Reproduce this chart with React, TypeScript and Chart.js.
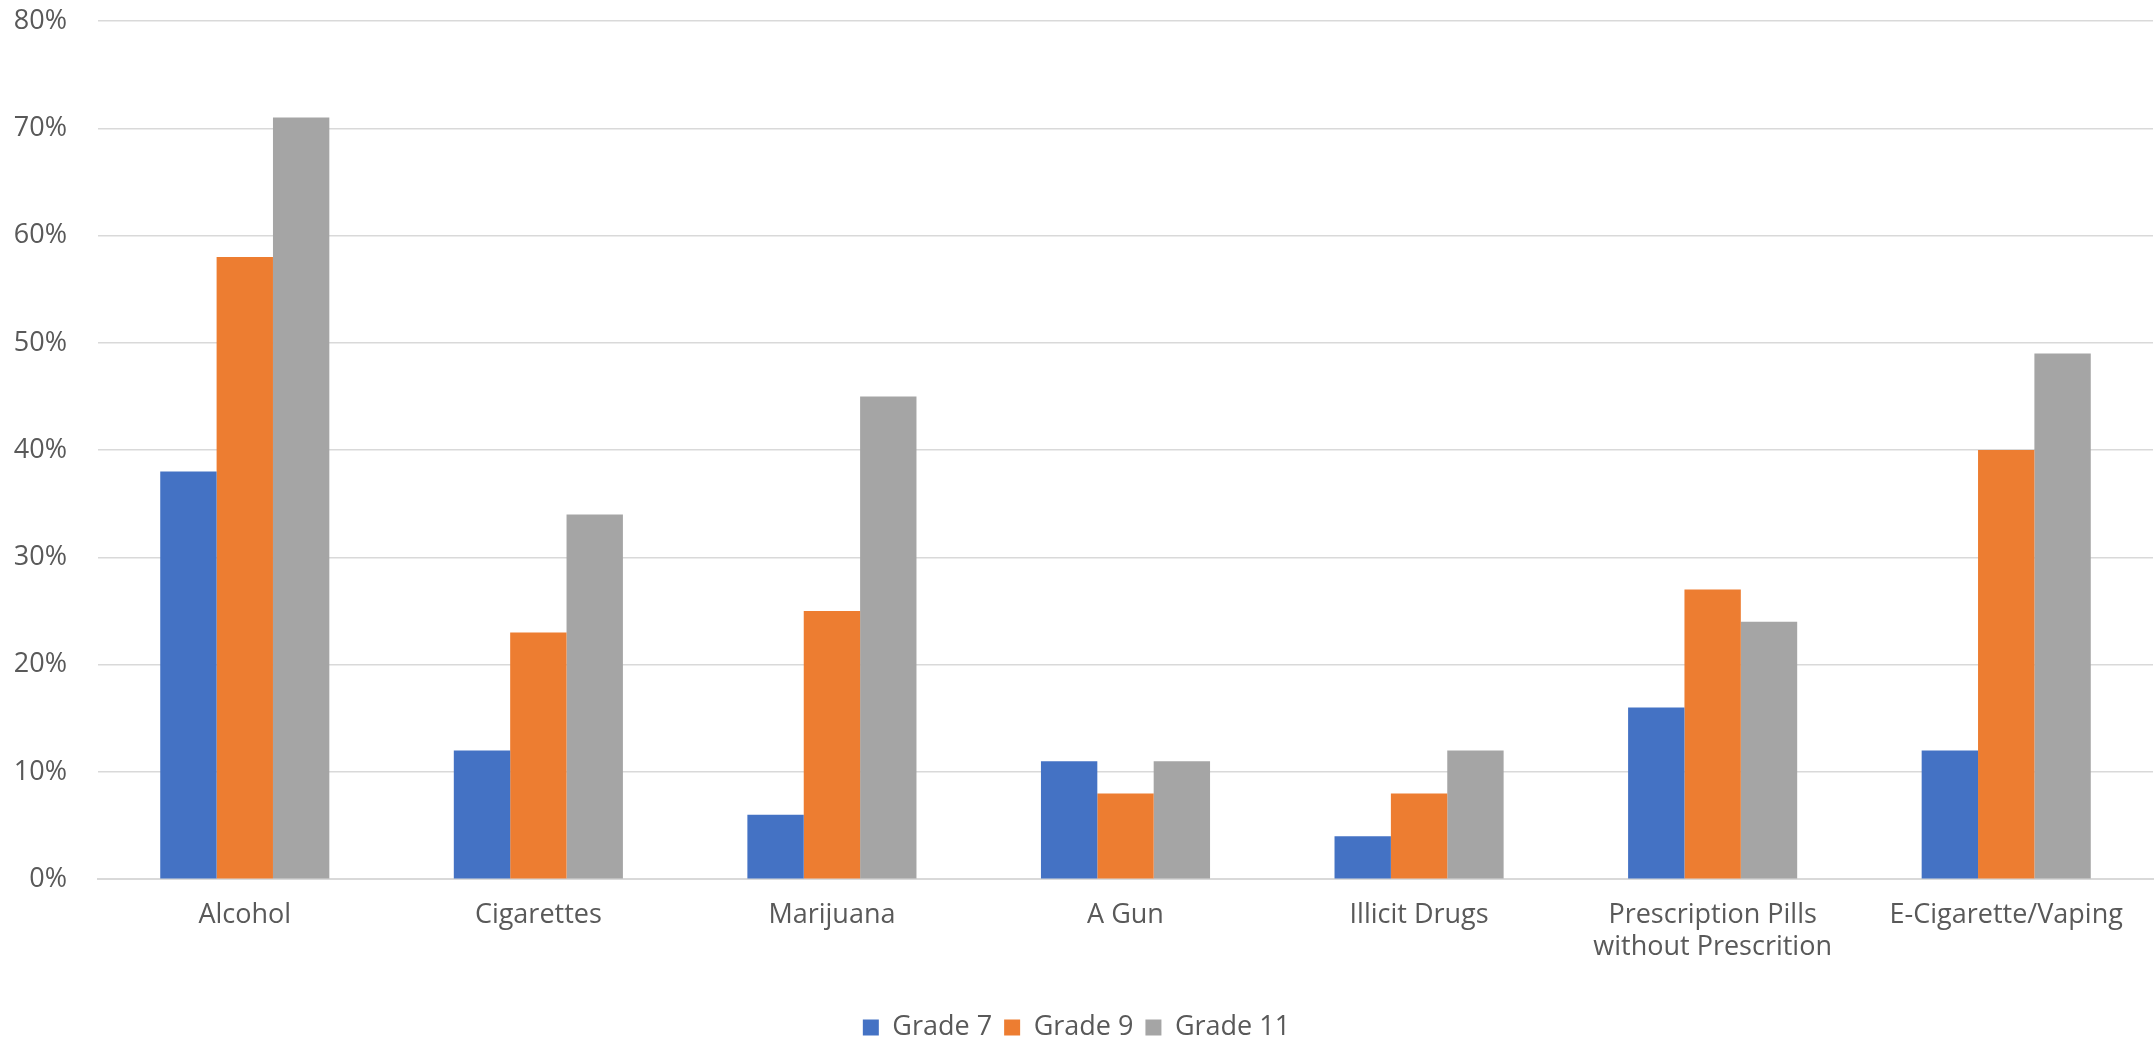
import React, { useEffect, useRef } from "react";
import { Chart, registerables } from "chart.js";

Chart.register(...registerables);

const categories: (string | string[])[] = [
  "Alcohol",
  "Cigarettes",
  "Marijuana",
  "A Gun",
  "Illicit Drugs",
  ["Prescription Pills", "without Prescrition"],
  "E-Cigarette/Vaping",
];
const grade7 = [38, 12, 6, 11, 4, 16, 12];
const grade9 = [58, 23, 25, 8, 8, 27, 40];
const grade11 = [71, 34, 45, 11, 12, 24, 49];
const seriesNames = ["Grade 7", "Grade 9", "Grade 11"];
const seriesColors = ["#4472C4", "#ED7D31", "#A5A5A5"];

const FONT = "'Open Sans', 'Liberation Sans', sans-serif";
const TEXT = "#595959";

export default function App() {
  const ref = useRef<HTMLCanvasElement | null>(null);
  useEffect(() => {
    if (!ref.current) return;
    const chart = new Chart(ref.current, {
      type: "bar",
      data: {
        labels: categories,
        datasets: [grade7, grade9, grade11].map((d, i) => ({
          label: seriesNames[i],
          data: d,
          backgroundColor: seriesColors[i],
          borderWidth: 0,
          categoryPercentage: 0.576,
          barPercentage: 1.0,
        })),
      },
      options: {
        animation: false,
        responsive: false,
        maintainAspectRatio: false,
        layout: { padding: { top: 21, right: 3, left: 0, bottom: -7 } },
        plugins: {
          tooltip: { enabled: false },
          legend: {
            position: "bottom",
            labels: {
              font: { family: FONT, size: 27 },
              color: TEXT,
              boxWidth: 16,
              boxHeight: 16,
              padding: 12,
            },
          },
        },
        scales: {
          x: {
            afterFit: (axis: any) => {
              axis.height = axis.height + 18;
            },
            grid: { display: false, drawTicks: false },
            border: { display: true, color: "#D9D9D9", width: 2 },
            ticks: {
              font: { family: FONT, size: 27 },
              color: TEXT,
              padding: 20,
              maxRotation: 0,
              autoSkip: false,
            },
          },
          y: {
            min: 0,
            max: 80,
            afterFit: (axis: any) => {
              axis.width = 98;
              axis.paddingTop = 0;
              axis.paddingBottom = 0;
            },
            grid: { color: "#D9D9D9", lineWidth: 1.5, drawTicks: false },
            border: { display: false },
            ticks: {
              stepSize: 10,
              font: { family: FONT, size: 27 },
              color: TEXT,
              padding: 31,
              callback: (v: any) => v + "%",
            },
          },
        },
      },
    });
    return () => chart.destroy();
  }, []);
  return (
    <div style={{ position: "fixed", left: 0, top: 0, width: 2156, height: 1044, background: "#fff" }}>
      <canvas ref={ref} width={2156} height={1044} style={{ width: 2156, height: 1044 }} />
    </div>
  );
}
